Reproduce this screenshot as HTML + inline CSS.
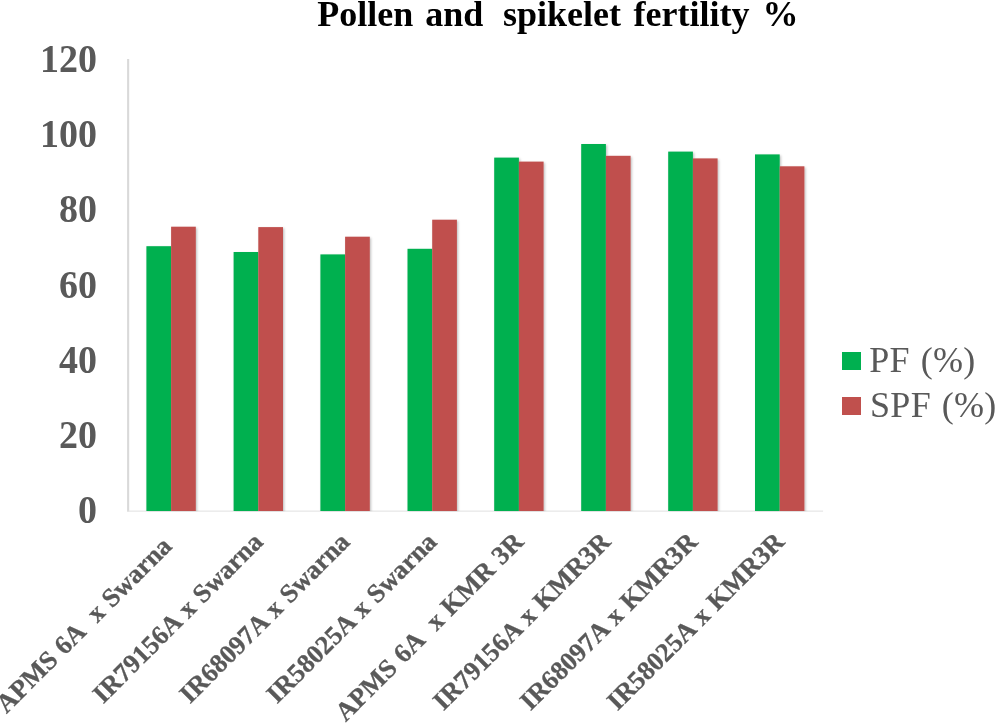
<!DOCTYPE html>
<html><head><meta charset="utf-8"><title>Pollen and spikelet fertility %</title>
<style>
html,body{margin:0;padding:0;background:#fff;}
body{width:996px;height:723px;overflow:hidden;}
svg{display:block;}
text{font-family:"Liberation Serif","Times New Roman",serif;white-space:pre;}
.yl{font-size:38px;font-weight:bold;fill:#595959;text-anchor:end;}
.xl{font-size:26.4px;stroke:#595959;stroke-width:0.3px;word-spacing:1px;font-weight:bold;fill:#595959;text-anchor:end;}
.lg{font-size:36px;word-spacing:1.5px;letter-spacing:0.3px;fill:#595959;}
.ti{font-size:36px;font-weight:bold;fill:#000;}
</style></head><body>
<svg width="996" height="723" viewBox="0 0 996 723">
<defs><filter id="sh" x="-20%" y="-5%" width="150%" height="110%"><feDropShadow dx="1.2" dy="1.2" stdDeviation="0.9" flood-color="#000" flood-opacity="0.25"/></filter><clipPath id="cp"><rect x="129" y="50" width="720" height="461.3"/></clipPath></defs>
<rect width="996" height="723" fill="#fff"/>
<text class="ti" y="25.6" xml:space="preserve"><tspan x="317.2">Pollen </tspan><tspan x="425.2">and  </tspan><tspan x="503">spikelet </tspan><tspan x="633.5">fertility </tspan><tspan x="762.5">%</tspan></text>
<rect x="127.1" y="59" width="2.1" height="452.5" fill="#d9d9d9"/>
<rect x="127.1" y="510.6" width="696" height="1" fill="#e0e0e0"/>
<text class="yl" transform="translate(97,71.9) scale(1,1.035)" x="0" y="0">120</text>
<text class="yl" transform="translate(97,147.2) scale(1,1.035)" x="0" y="0">100</text>
<text class="yl" transform="translate(97,222.4) scale(1,1.035)" x="0" y="0">80</text>
<text class="yl" transform="translate(97,297.6) scale(1,1.035)" x="0" y="0">60</text>
<text class="yl" transform="translate(97,372.9) scale(1,1.035)" x="0" y="0">40</text>
<text class="yl" transform="translate(97,448.1) scale(1,1.035)" x="0" y="0">20</text>
<text class="yl" transform="translate(97,523.4) scale(1,1.035)" x="0" y="0">0</text>
<g clip-path="url(#cp)"><g filter="url(#sh)">
<rect x="146.4" y="246.2" width="24.7" height="264.8" fill="#00b050"/><rect x="171.1" y="226.7" width="24.7" height="284.3" fill="#c0504d"/>
<rect x="233.6" y="252.0" width="24.7" height="259.0" fill="#00b050"/><rect x="258.3" y="227.1" width="24.7" height="283.9" fill="#c0504d"/>
<rect x="320.4" y="254.4" width="24.7" height="256.6" fill="#00b050"/><rect x="345.1" y="236.7" width="24.7" height="274.3" fill="#c0504d"/>
<rect x="407.5" y="248.8" width="24.7" height="262.2" fill="#00b050"/><rect x="432.2" y="219.7" width="24.7" height="291.3" fill="#c0504d"/>
<rect x="494.2" y="157.6" width="24.7" height="353.4" fill="#00b050"/><rect x="518.9" y="161.6" width="24.7" height="349.4" fill="#c0504d"/>
<rect x="581.2" y="144.0" width="24.7" height="367.0" fill="#00b050"/><rect x="605.9" y="155.8" width="24.7" height="355.2" fill="#c0504d"/>
<rect x="668.2" y="151.6" width="24.7" height="359.4" fill="#00b050"/><rect x="692.9" y="158.4" width="24.7" height="352.6" fill="#c0504d"/>
<rect x="755.0" y="154.4" width="24.7" height="356.6" fill="#00b050"/><rect x="779.7" y="166.3" width="24.7" height="344.7" fill="#c0504d"/>
</g></g>
<text class="xl" xml:space="preserve" transform="translate(173.1,547.6) rotate(-45)" x="0" y="0">APMS 6A  x Swarna</text>
<text class="xl" xml:space="preserve" transform="translate(264.3,543.3) rotate(-45)" x="0" y="0">IR79156A x Swarna</text>
<text class="xl" xml:space="preserve" transform="translate(351.1,543.3) rotate(-45)" x="0" y="0">IR68097A x Swarna</text>
<text class="xl" xml:space="preserve" transform="translate(438.2,543.3) rotate(-45)" x="0" y="0">IR58025A x Swarna</text>
<text class="xl" xml:space="preserve" transform="translate(524.9,543.3) rotate(-45)" x="0" y="0">APMS 6A  x KMR 3R</text>
<text class="xl" xml:space="preserve" transform="translate(611.9,543.3) rotate(-45)" x="0" y="0">IR79156A x KMR3R</text>
<text class="xl" xml:space="preserve" transform="translate(698.9,543.3) rotate(-45)" x="0" y="0">IR68097A x KMR3R</text>
<text class="xl" xml:space="preserve" transform="translate(785.7,543.3) rotate(-45)" x="0" y="0">IR58025A x KMR3R</text>
<rect x="842" y="352" width="19" height="18" fill="#00b050"/>
<rect x="842" y="397" width="19" height="18" fill="#c0504d"/>
<text class="lg" x="869.3" y="372.3">PF (%)</text>
<text class="lg" x="870" y="417.3">SPF (%)</text>
</svg>
</body></html>
